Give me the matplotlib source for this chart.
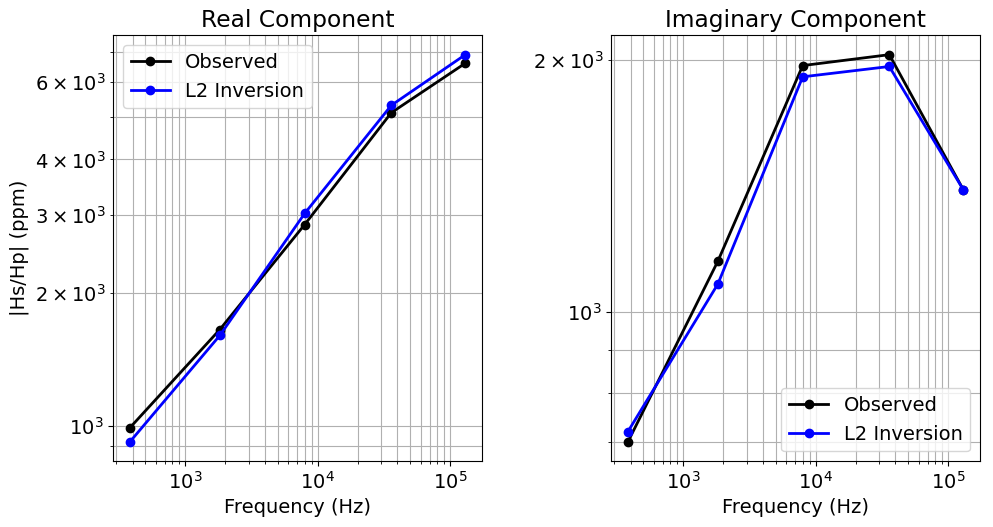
import matplotlib.pyplot as plt
import numpy as np

frequencies = np.array([382, 1822, 7970, 35920, 130100])
real_observed = np.array([990, 1650, 2850, 5100, 6600])
real_l2 = np.array([920, 1600, 3020, 5300, 6900])
imag_observed = np.array([700, 1150, 1970, 2030, 1400])
imag_l2 = np.array([720, 1080, 1910, 1965, 1400])

plt.rcParams['font.size'] = 14
fig, axes = plt.subplots(1, 2, figsize=(9.93, 5.27), dpi=100)

panels = [
    (axes[0], real_observed, real_l2, "Real Component", "upper left"),
    (axes[1], imag_observed, imag_l2, "Imaginary Component", "lower right"),
]
for ax, obs, inv, title, loc in panels:
    ax.loglog(frequencies, obs, "k-o", lw=2, label="Observed")
    ax.loglog(frequencies, inv, "b-o", lw=2, label="L2 Inversion")
    ax.grid(which="both")
    ax.set_title(title)
    ax.set_xlabel("Frequency (Hz)")
    ax.legend(loc=loc)

axes[0].set_ylabel("|Hs/Hp| (ppm)")

plt.subplots_adjust(left=0.114, right=0.987, top=0.933, bottom=0.125, wspace=0.35)
plt.savefig("out.png")
